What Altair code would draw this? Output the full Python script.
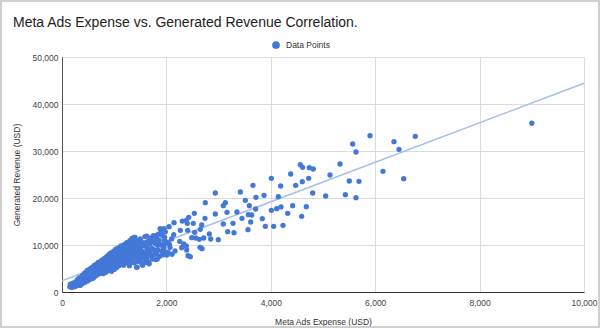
import altair as alt
import pandas as pd

# Dense cluster (low spend) and scattered points
cluster_expense = [
    150, 170, 190, 200, 210, 230, 240, 250,
    260, 270, 280, 290, 300, 310, 320, 330, 340, 350,
    360, 370, 380, 390, 400, 410, 420, 430, 440, 450,
    460, 470, 480, 490, 500, 510, 520, 530, 540, 550,
    560, 570, 580, 590, 600, 610, 620, 630, 640, 650,
    660, 670, 680, 690, 700, 710, 720, 730, 740, 750,
    760, 770, 780, 790, 800, 810, 820, 830, 840, 850,
    860, 870, 880, 890, 900, 910, 920, 930, 940, 950,
    960, 970, 980, 990, 1000, 1010, 1020, 1030, 1040, 1050,
    1060, 1070, 1080, 1090, 1100, 1110, 1120, 1130, 1140, 1150,
    1160, 1170, 1180, 1190, 1200, 1210, 1220, 1230, 1240, 1250,
    1260, 1270, 1280, 1290, 1300, 1310, 1320, 1330, 1340, 1350,
    1370, 1380, 1390, 1400, 1420, 1430, 1440, 1450,
    1470, 1480, 1500, 1510, 1530, 1545, 1550,
    1570, 1590, 1600, 1620, 1630, 1650,
    1670, 1680, 1700, 1720, 1730, 1750,
    1770, 1790, 1800, 1820, 1840, 1850,
    1870, 1880, 1890, 1910, 1930, 1950,
    1980, 2000, 2030,
]
cluster_revenue = [
    1100, 1400, 1000, 1700, 1250, 1500, 2000, 1150,
    1800, 1350, 2300, 1600, 2700, 1450, 2050, 3000, 1750, 2450,
    1600, 2900, 2100, 3500, 1850, 2600, 3200, 4000, 2100, 2900,
    3600, 4300, 2300, 3100, 3900, 4700, 2600, 3400, 4300, 5000,
    2800, 3700, 4600, 5300, 3100, 4000, 4900, 5700, 3400, 4400,
    5300, 6000, 3700, 4700, 5600, 3900, 6200, 5000, 4200, 6600,
    5500, 4500, 6900, 3900, 5900, 4900, 7200, 6400, 4200, 5400,
    7600, 6700, 4500, 5800, 8000, 7100, 5000, 6300, 8300, 4400,
    7500, 5500, 6800, 8700, 4800, 7900, 6100, 9100, 7300, 5200,
    8400, 6500, 9400, 5600, 7700, 8900, 6900, 9800, 6000, 8200,
    7300, 9300, 5700, 10100, 8000, 6500, 9000, 7200, 10500, 6200,
    8600, 9800, 7600, 5600, 10900, 8300, 6700, 9300, 11400, 7800,
    10200, 6200, 8800, 11600, 7400, 9700, 5300, 10800,
    8300, 6700, 11300, 9200, 7200, 5700, 10300,
    8100, 11800, 6300, 9600, 7300, 10800,
    6000, 8600, 11500, 9300, 7000, 12000,
    8000, 10300, 6900, 11300, 9000, 12300,
    7600, 13500, 10100, 8600, 11900, 9400,
    12800, 10600, 8500,
]

# Further points filling the dense cluster
fill_expense = [
    160, 185, 215, 225, 245,
    265, 285, 305, 315, 335, 345,
    355, 365, 385, 395, 415, 425, 445,
    455, 465, 485, 495, 505, 525, 535, 545,
    555, 565, 575, 585, 595, 605, 615, 625, 645,
    655, 665, 675, 685, 695, 705, 715, 725, 745,
    755, 765, 775, 785, 795, 805, 815, 825, 845,
    855, 865, 875, 885, 895, 905, 915, 925, 945,
    955, 965, 975, 985, 995, 1005, 1015, 1025, 1045,
    1055, 1065, 1075, 1085, 1095, 1105, 1115, 1125, 1145,
    1155, 1165, 1175, 1185, 1195, 1205, 1215, 1225, 1245,
    1255, 1265, 1275, 1285, 1295, 1305, 1315, 1325, 1345,
    1355, 1365, 1375, 1395, 1405, 1415, 1435, 1445,
    1455, 1465, 1490, 1520, 1540, 1560,
    1580, 1600, 1610, 1640, 1660,
    1690, 1710, 1740, 1760,
    1780, 1810, 1830, 1860,
    1900, 1920, 1940, 1960,
]
fill_revenue = [
    1650, 1250, 1900, 1100, 1600,
    2100, 1900, 2300, 1800, 2600, 1400,
    3000, 2300, 1900, 2800, 3700, 2300, 3400,
    4100, 2700, 4600, 2500, 3500, 4100, 3000, 3700,
    4200, 5100, 3300, 4100, 2900, 4700, 5600, 3600, 5200,
    3700, 4800, 5700, 4200, 6300, 5100, 4500, 5700, 4900,
    4300, 6200, 5200, 5900, 4400, 6500, 5600, 4500, 6800,
    4800, 6300, 7300, 5200, 6900, 4700, 6000, 7500, 5900,
    6900, 8000, 6200, 5200, 7600, 6500, 8400, 5600, 8100,
    6000, 7400, 8100, 6800, 9000, 6200, 7300, 8600, 9000,
    6600, 8700, 7700, 6000, 9000, 7600, 9700, 6700, 8400,
    9300, 7000, 10400, 8100, 9200, 6300, 10000, 7200, 8800,
    9700, 7200, 11000, 7800, 9100, 10500, 8400, 6500,
    9000, 10000, 7700, 10700, 8600, 9900,
    7200, 10500, 8500, 9300, 7800,
    10300, 7900, 10700, 9000,
    11700, 8200, 10000, 11000,
    12500, 9900, 7900, 11000,
]

spread_expense = [
    9000, 5900, 6768, 6360, 6456, 5569, 5632, 6149, 6546, 5326,
    5134, 5504, 5690, 5428, 5632, 5051, 4802, 4566, 4610, 4738,
    4814, 4726, 4604, 4477, 4381, 4189, 4680, 4591, 4419, 4324,
    4234, 4195, 4010, 3870, 4144, 4113, 4010, 3837, 3895, 4055,
    3659, 3416, 2937, 3716, 3512, 3588, 3710, 3129, 3090, 2745,
    3352, 3161, 2937, 2535, 3570, 3448, 3634, 2739, 2381, 2305,
    2146, 2427, 2400, 2515, 2676, 3090, 3276, 3174, 3295, 3615,
    3563, 2266, 2408, 2542, 2649, 2822, 2715, 2849, 2994, 2485,
    2561, 2630, 2255, 2331, 2101, 2140, 1967, 2030, 1954, 2069,
    2293, 2381, 2644, 2682, 2389, 2414, 2458, 1941, 2107, 2011,
    1954, 1897, 2050, 1992, 2165, 2056, 1385, 1622, 1826, 1431,
    1661, 1527, 1826,
]
spread_revenue = [
    35900, 33260, 33130, 31980, 30360, 31490, 29790, 25680, 24110, 27230,
    24890, 23620, 23550, 20700, 20070, 20430, 21060, 27090, 26530, 26450,
    26170, 24190, 23470, 22700, 25110, 22550, 18150, 16110, 18360, 16740,
    14190, 18090, 24190, 20570, 20280, 17730, 17380, 15600, 13980, 13980,
    22700, 21280, 21060, 20140, 19510, 18360, 17660, 19000, 18360, 19000,
    17020, 16950, 16600, 16740, 16450, 15670, 16380, 15670, 15250, 15100,
    14750, 15890, 14610, 14610, 14260, 14470, 14610, 12830, 12620, 14890,
    13260, 13130, 13130, 12700, 13340, 12340, 11490, 11280, 11130, 11550,
    11490, 11210, 10790, 10210, 11280, 12190, 11640, 10570, 9940, 9510,
    9430, 9790, 9510, 9210, 8940, 7720, 7510, 8940, 8020, 7870,
    13470, 13190, 13900, 8450, 8720, 10140, 11640, 11910, 12130, 5260,
    6320, 6100, 7020,
]

# Trendline endpoints
trend_expense = [0, 10000]
trend_revenue = [2400, 44400]

x_ticks = [0, 2000, 4000, 6000, 8000, 10000]
y_ticks = [0, 10000, 20000, 30000, 40000, 50000]

all_x = cluster_expense + fill_expense + spread_expense
all_y = cluster_revenue + fill_revenue + spread_revenue
points = pd.DataFrame({
    "expense": all_x,
    "revenue": all_y,
    "series": ["Data Points"] * len(all_x),
})
trend = pd.DataFrame({"expense": trend_expense, "revenue": trend_revenue})

FONT = "Liberation Sans"
x_scale = alt.Scale(domain=[0, 10000], nice=False)
y_scale = alt.Scale(domain=[0, 50000], nice=False)

x_axis = alt.Axis(values=x_ticks, format=",.0f", title="Meta Ads Expense (USD)",
                  ticks=False, labelPadding=6, titlePadding=11,
                  domainColor="#333333", labelFlush=False)
y_axis = alt.Axis(values=y_ticks, format=",.0f", title="Generated Revenue (USD)",
                  ticks=False, labelPadding=4, titlePadding=11,
                  domainColor="#555555")

pts = alt.Chart(points).mark_circle(size=28, opacity=1).encode(
    x=alt.X("expense:Q", scale=x_scale, axis=x_axis),
    y=alt.Y("revenue:Q", scale=y_scale, axis=y_axis),
    color=alt.Color("series:N", scale=alt.Scale(range=["#4378d8"]),
                    legend=alt.Legend(title=None, orient="none",
                                      legendX=209, legendY=-17,
                                      symbolSize=60, symbolType="circle",
                                      labelFont=FONT, labelFontSize=8.5,
                                      labelColor="#333333", labelOffset=5,
                                      padding=0)),
)

line = alt.Chart(trend).mark_line(color="#a3c0ea", strokeWidth=1.5).encode(
    x=alt.X("expense:Q", scale=x_scale),
    y=alt.Y("revenue:Q", scale=y_scale),
)

frame = alt.Chart(alt.Data(values=[{}])).mark_rect(
    fill=None, stroke="#cfcfcf", strokeWidth=2
).encode(
    x=alt.value(-61), x2=alt.value(537), y=alt.value(-56), y2=alt.value(270)
)

chart = alt.layer(line, pts, frame).properties(
    width=522, height=235,
    padding={"left": 62, "top": 57, "right": 16, "bottom": 36},
    autosize="none",
    title=alt.TitleParams(
        "Meta Ads Expense vs. Generated Revenue Correlation.",
        anchor="start", dx=13, offset=0, dy=41, baseline="alphabetic",
        font=FONT, fontSize=14, fontWeight="normal", color="#222222",
    ),
).configure_view(stroke=None).configure_axis(
    labelFont=FONT, titleFont=FONT, labelFontSize=8.5, titleFontSize=8.5,
    labelColor="#444444", titleColor="#333333", titleFontWeight="normal",
    gridColor="#dcdcdc", domainWidth=1,
)

chart.save("out.html", embed_options={"renderer": "svg", "actions": False})
